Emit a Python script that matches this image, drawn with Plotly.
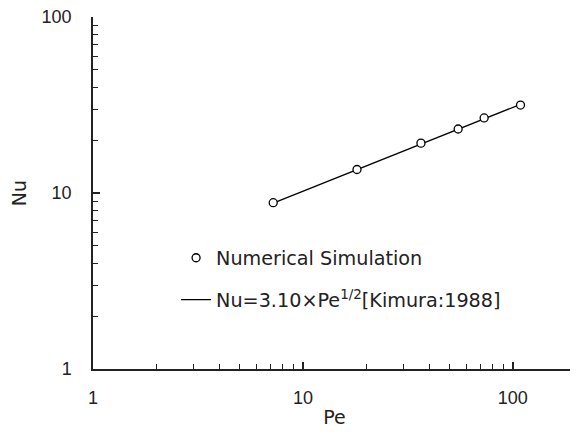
import plotly.graph_objects as go

pe_sim = [7.22, 18.1, 36.5, 54.9, 73.0, 108.8]
nu_sim = [8.81, 13.6, 19.2, 23.1, 26.7, 31.6]

pe_line = [7.22, 108.8]
nu_line = [8.75, 31.9]

TICK_FONT = "Liberation Sans"
TEXT_FONT = "DejaVu Sans"

fig = go.Figure()
fig.add_trace(go.Scatter(
    x=pe_line, y=nu_line, mode="lines", legendgroup="b", legendrank=2,
    name="Nu=3.10×Pe<sup>1/2</sup>[Kimura:1988]",
    line=dict(color="black", width=1.3)))
fig.add_trace(go.Scatter(
    x=pe_sim, y=nu_sim, mode="markers", name="Numerical Simulation",
    legendgroup="a", legendrank=1,
    marker=dict(symbol="circle", size=8, color="white",
                line=dict(color="black", width=1.3)),
    cliponaxis=False))

axis_common = dict(
    type="log", showgrid=False, zeroline=False, automargin=False,
    showline=True, linecolor="#222", linewidth=1.5,
    ticks="inside", ticklen=7, tickcolor="#222", tickwidth=1.5,
    dtick=1, tickfont=dict(family=TICK_FONT, size=18, color="#222"),
    ticklabeloverflow="allow",
    minor=dict(ticks="inside", ticklen=5, tickcolor="#222", tickwidth=1, dtick="D1"),
)

# page body has an 8px margin, so the figure is sized to fit the window
fig.update_layout(
    width=570, height=424,
    margin=dict(l=85, r=2, t=9, b=63),
    paper_bgcolor="white", plot_bgcolor="white",
    font=dict(family=TEXT_FONT, size=19, color="#222"),
    xaxis=dict(range=[0, 2.301], ticklabelstandoff=12,
               title=dict(text="Pe", standoff=3,
               font=dict(family=TEXT_FONT, size=19)), **axis_common),
    yaxis=dict(range=[0, 2], ticklabelstandoff=16,
               title=dict(text="Nu", standoff=17,
               font=dict(family=TEXT_FONT, size=19)), **axis_common),
    legend=dict(x=0.172, y=0.37, xanchor="left", yanchor="top",
                bgcolor="rgba(0,0,0,0)", font=dict(family=TEXT_FONT, size=19.2),
                traceorder="grouped", tracegroupgap=14, itemwidth=30),
    showlegend=True,
)

fig.write_html("out.html")
